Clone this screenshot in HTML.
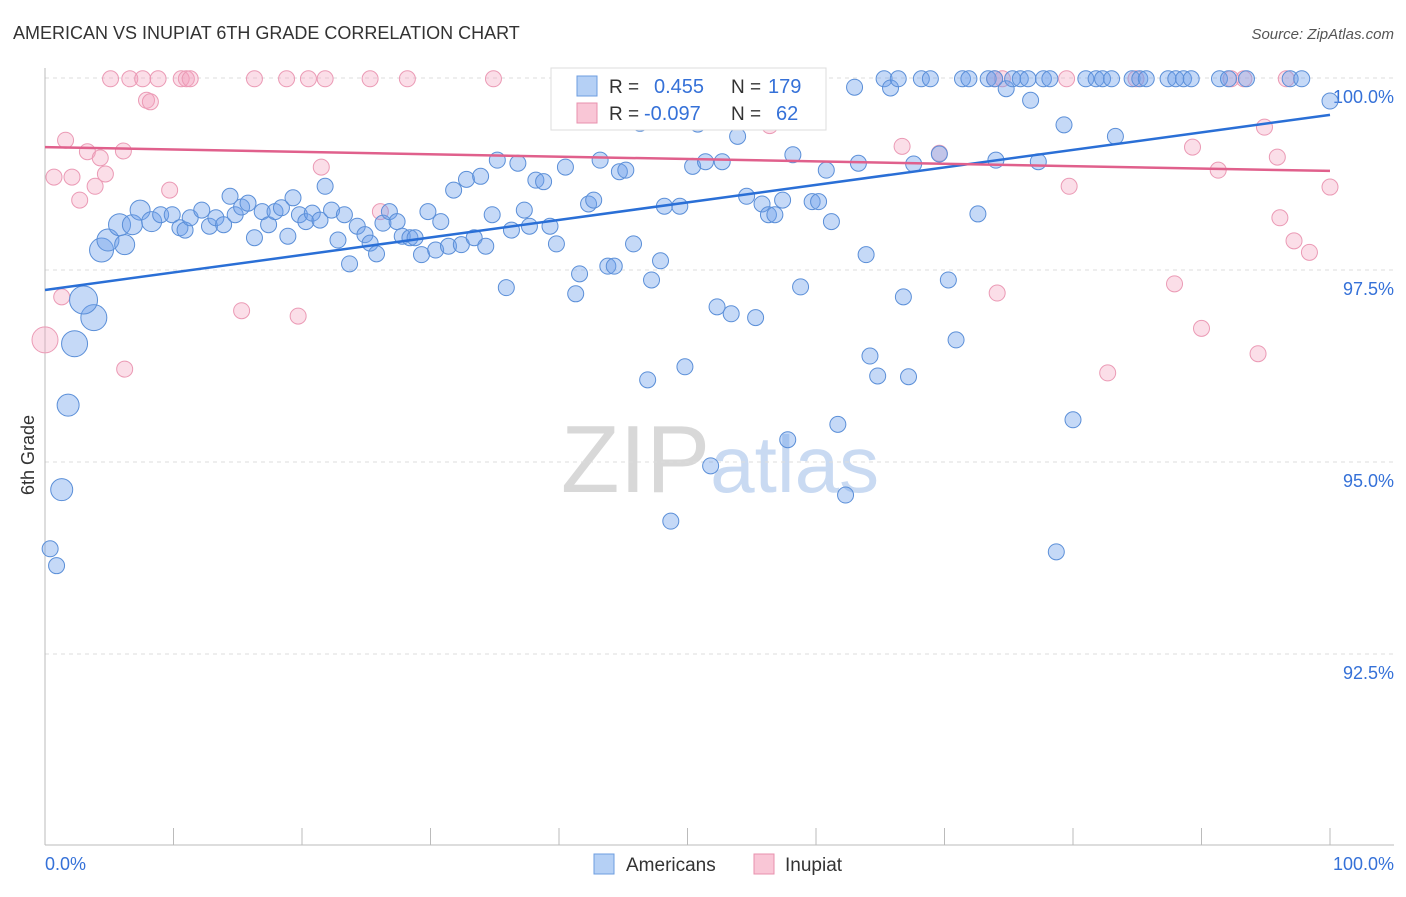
<!DOCTYPE html>
<html><head><meta charset="utf-8"><style>
body{margin:0;background:#fff;font-family:"Liberation Sans",sans-serif;}
svg text{font-family:"Liberation Sans",sans-serif;}
</style></head><body>
<svg id="chart" width="1406" height="892" xmlns="http://www.w3.org/2000/svg">
<text x="13" y="39" font-size="18" fill="#333">AMERICAN VS INUPIAT 6TH GRADE CORRELATION CHART</text>
<text x="1394" y="39" font-size="15" fill="#555" text-anchor="end" font-style="italic">Source: ZipAtlas.com</text>
<text x="720" y="492" font-size="96" text-anchor="middle" fill="#ddd" font-family="Liberation Serif"><tspan fill="#d8d8d8">ZIP</tspan><tspan fill="#c9daf2" font-family="Liberation Sans" font-size="80">atlas</tspan></text>
<text transform="translate(34,455) rotate(-90)" font-size="18" fill="#333" text-anchor="middle">6th Grade</text>
<g id="grid"></g><g id="marks"></g><g id="lines"></g>
<g>
<rect x="551" y="68" width="275" height="62" fill="#fff" stroke="#ddd"/>
<rect x="577" y="76" width="20" height="20" fill="#b5d0f5" stroke="#6d9ee0"/>
<text x="609" y="93" font-size="19" fill="#333">R =</text><text x="654" y="93" font-size="20" fill="#3571d8">0.455</text>
<text x="731" y="93" font-size="19" fill="#333">N =</text><text x="768" y="93" font-size="20" fill="#3571d8">179</text>
<rect x="577" y="103" width="20" height="20" fill="#f9c6d6" stroke="#e890ae"/>
<text x="609" y="120" font-size="19" fill="#333">R =</text><text x="644" y="120" font-size="20" fill="#3571d8">-0.097</text>
<text x="731" y="120" font-size="19" fill="#333">N =</text><text x="776" y="120" font-size="20" fill="#3571d8">62</text>
</g>
<g>
<rect x="594" y="854" width="20" height="20" fill="#b5d0f5" stroke="#6d9ee0"/>
<text x="626" y="871" font-size="19" fill="#333">Americans</text>
<rect x="754" y="854" width="20" height="20" fill="#f9c6d6" stroke="#e890ae"/>
<text x="785" y="871" font-size="19" fill="#333">Inupiat</text>
</g>
</svg>
<script>
const blueX=[0.4,0.9,1.3,1.8,2.3,3.8,3.0,4.4,4.9,6.2,5.8,6.8,7.4,8.3,9.0,9.9,10.5,10.9,11.3,12.2,12.8,13.3,13.9,14.4,14.8,15.3,15.8,16.3,16.9,17.4,17.9,18.4,18.9,19.3,19.8,20.3,20.8,21.4,21.8,22.3,22.8,23.3,23.7,24.3,24.9,25.3,25.8,26.3,26.8,27.4,27.8,28.4,28.8,29.3,29.8,30.4,30.8,31.4,31.8,32.4,32.8,33.4,33.9,34.3,34.8,35.2,35.9,36.3,36.8,37.3,37.7,38.2,38.8,39.3,39.8,40.5,41.3,41.6,42.3,42.7,43.2,43.8,44.3,44.7,45.2,45.8,46.3,46.9,47.2,47.9,48.2,48.7,49.4,49.8,50.4,50.8,51.4,51.8,52.3,52.7,53.4,53.9,54.6,55.3,55.8,56.3,56.8,57.4,57.8,58.2,58.8,59.2,59.7,60.2,60.8,61.2,61.7,62.3,63.0,63.3,63.9,64.2,64.8,65.3,65.8,66.4,66.8,67.2,67.6,68.2,68.9,69.6,70.3,70.9,71.4,71.9,72.6,73.4,73.9,74.8,75.3,75.9,76.5,76.7,77.7,78.2,78.7,79.3,80.0,81.0,81.8,82.3,83.0,83.3,84.6,85.2,85.7,87.4,88.0,88.6,89.2,91.4,92.1,93.5,96.9,97.8,100,77.3,74.0];
const blueY=[93.87,93.65,94.64,95.74,96.54,96.88,97.11,97.76,97.89,97.83,98.09,98.09,98.28,98.13,98.22,98.22,98.05,98.02,98.18,98.28,98.07,98.18,98.09,98.46,98.22,98.32,98.37,97.92,98.26,98.09,98.26,98.31,97.94,98.44,98.22,98.13,98.24,98.15,98.59,98.28,97.89,98.22,97.58,98.07,97.96,97.85,97.71,98.11,98.26,98.13,97.94,97.92,97.92,97.70,98.26,97.76,98.13,97.81,98.54,97.83,98.68,97.92,98.72,97.81,98.22,98.93,97.27,98.02,98.89,98.28,98.07,98.67,98.65,98.07,97.84,98.84,97.19,97.45,98.36,98.41,98.93,97.55,97.55,98.78,98.80,97.84,99.41,96.07,97.37,97.62,98.33,94.23,98.33,96.24,98.85,99.40,98.91,94.95,97.02,98.91,96.93,99.24,98.46,96.88,98.36,98.22,98.22,98.41,95.29,99.00,97.28,99.99,98.39,98.39,98.80,98.13,95.49,94.57,99.88,98.89,97.70,96.38,96.12,99.99,99.87,99.99,97.15,96.11,98.88,99.99,99.99,99.01,97.37,96.59,99.99,99.99,98.23,99.99,99.99,99.86,99.99,99.99,99.99,99.71,99.99,99.99,93.83,99.39,95.55,99.99,99.99,99.99,99.99,99.24,99.99,99.99,99.99,99.99,99.99,99.99,99.99,99.99,99.99,99.99,99.99,99.99,99.70,98.91,98.93];
const blueR=[8,8,11,11,13,13,14,12,11,10,11,10,10,10,8,8,8,8,8,8,8,8,8,8,8,8,8,8,8,8,8,8,8,8,8,8,8,8,8,8,8,8,8,8,8,8,8,8,8,8,8,8,8,8,8,8,8,8,8,8,8,8,8,8,8,8,8,8,8,8,8,8,8,8,8,8,8,8,8,8,8,8,8,8,8,8,8,8,8,8,8,8,8,8,8,8,8,8,8,8,8,8,8,8,8,8,8,8,8,8,8,8,8,8,8,8,8,8,8,8,8,8,8,8,8,8,8,8,8,8,8,8,8,8,8,8,8,8,8,8,8,8,8,8,8,8,8,8,8,8,8,8,8,8,8,8,8,8,8,8,8,8,8,8,8,8,8,8,8,8,8];
const pinkX=[0,1.3,0.7,1.6,2.1,2.7,3.3,3.9,4.3,4.7,5.1,6.1,6.2,6.6,7.6,7.9,8.2,8.8,9.7,10.6,11.0,11.3,15.3,16.3,18.8,19.7,20.5,21.5,21.8,25.3,26.1,28.2,34.9,47.5,56.4,66.7,69.6,74.1,79.5,79.7,82.7,84.9,87.9,89.3,90.0,91.3,93.3,94.4,94.9,95.9,96.1,97.2,98.4,100,96.6,74.5,73.9,92.3];
const pinkY=[96.59,97.15,98.71,99.19,98.71,98.41,99.04,98.59,98.96,98.75,99.99,99.05,96.21,99.99,99.99,99.71,99.69,99.99,98.54,99.99,99.99,99.99,96.97,99.99,99.99,96.90,99.99,98.84,99.99,99.99,98.26,99.99,99.99,99.99,99.38,99.11,99.02,97.20,99.99,98.59,96.16,99.99,97.32,99.10,96.74,98.80,99.99,96.41,99.36,98.97,98.18,97.88,97.73,98.58,99.99,99.99,99.99,99.99];
const blueTrend=[97.24,99.52];
const pinkTrend=[99.10,98.79];
const yTicks=[100,97.5,95,92.5];
const yTickLabels=["100.0%","97.5%","95.0%","92.5%"];
const xs=v=>45+v*12.85;
const ys=v=>78+(100-v)*76.8;
const NS="http://www.w3.org/2000/svg";
function mk(tag,parent,attrs){const e=document.createElementNS(NS,tag);for(const k in attrs)e.setAttribute(k,attrs[k]);parent.appendChild(e);return e;}
const grid=document.getElementById('grid'),marks=document.getElementById('marks'),lines=document.getElementById('lines');
yTicks.forEach((t,i)=>{
 const l=mk('line',grid,{x1:45,x2:1394,y1:ys(t),y2:ys(t),stroke:'#ddd','stroke-dasharray':'4,4'});
 
 
 const tx=mk('text',grid,{x:1394,y:ys(t)+25,'font-size':18,fill:'#3571d8','text-anchor':'end'});
 tx.textContent=yTickLabels[i];
 
 
});
const ax=mk('line',grid,{x1:45,x2:1394,y1:845,y2:845,stroke:'#bbb'});


const ay=mk('line',grid,{x1:45,x2:45,y1:68,y2:845,stroke:'#bbb'});


for(let i=0;i<=10;i++){const t=mk('line',grid,{x1:xs(i*10),x2:xs(i*10),y1:828,y2:845,stroke:'#bbb'});
 
 }
[[0,'0.0%','start',45],[100,'100.0%','end',1394]].forEach(d=>{const t=mk('text',grid,{x:d[3],y:870,'font-size':18,fill:'#3571d8','text-anchor':d[2]});t.textContent=d[1];
 
 });
pinkX.forEach((x,i)=>{const c=mk('circle',marks,{cx:xs(x),cy:ys(pinkY[i]),r:i===0?13:8,fill:'rgba(244,160,190,0.35)',stroke:'#eb9ab5','stroke-width':1});
 
 });
blueX.forEach((x,i)=>{const c=mk('circle',marks,{cx:xs(x),cy:ys(blueY[i]),r:blueR[i]||8,fill:'rgba(110,160,235,0.4)',stroke:'#5b8fd8','stroke-width':1});
 
 });
const bl=mk('line',lines,{x1:xs(0),x2:xs(100),y1:ys(blueTrend[0]),y2:ys(blueTrend[1]),stroke:'#2a6fd6','stroke-width':2.5});


const pl=mk('line',lines,{x1:xs(0),x2:xs(100),y1:ys(pinkTrend[0]),y2:ys(pinkTrend[1]),stroke:'#e0608c','stroke-width':2.5});


</script>
</body></html>
